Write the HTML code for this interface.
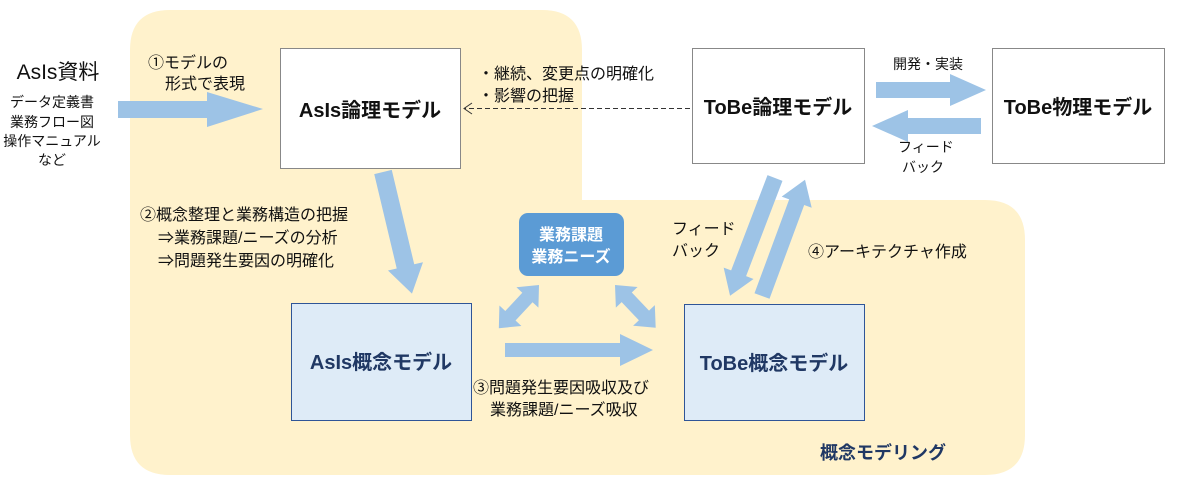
<!DOCTYPE html>
<html><head><meta charset="utf-8"><style>
html,body{margin:0;padding:0;background:#fff;}
svg{display:block;}
text{font-family:"Liberation Sans","Noto Sans CJK JP",sans-serif;}
</style></head><body>
<svg width="1178" height="485" viewBox="0 0 1178 485" xmlns="http://www.w3.org/2000/svg">
<defs>
<polygon id="ar" points="0,-9 97,-9 97,-18 125,0 97,18 97,9 0,9"/>
</defs>
<path d="M170,10 H542 Q582,10 582,50 V200 H985 Q1025,200 1025,240 V435 Q1025,475 985,475 H170 Q130,475 130,435 V50 Q130,10 170,10 Z" fill="#FFF2CC"/>

<text x="58" y="79" font-size="21" text-anchor="middle" fill="#111">AsIs資料</text>
<g font-size="14" text-anchor="middle" fill="#111">
<text x="52" y="107">データ定義書</text>
<text x="52" y="127">業務フロー図</text>
<text x="52" y="146">操作マニュアル</text>
<text x="52" y="165">など</text>
</g>
<polygon points="118,101 207,101 207,92 263,109 207,127 207,118 118,118" fill="#9DC3E6"/>
<text x="148" y="68" font-size="16" fill="#111">①モデルの</text>
<text x="165" y="89" font-size="16" fill="#111">形式で表現</text>

<rect x="280.5" y="48.5" width="180" height="120" fill="#fff" stroke="#888"/>
<text x="370" y="117" font-size="20" font-weight="bold" text-anchor="middle" fill="#111">AsIs論理モデル</text>

<line x1="690" y1="108.5" x2="464" y2="108.5" stroke="#333" stroke-dasharray="5,3"/>
<polyline points="472,103 464,108.5 472,114" fill="none" stroke="#333"/>
<text x="478" y="79" font-size="16" fill="#111">・継続、変更点の明確化</text>
<text x="478" y="101" font-size="16" fill="#111">・影響の把握</text>

<rect x="692.5" y="48.5" width="172" height="115" fill="#fff" stroke="#888"/>
<text x="778" y="114" font-size="20" font-weight="bold" text-anchor="middle" fill="#111">ToBe論理モデル</text>
<rect x="992.5" y="48.5" width="172" height="115" fill="#fff" stroke="#888"/>
<text x="1078" y="114" font-size="20" font-weight="bold" text-anchor="middle" fill="#111">ToBe物理モデル</text>
<polygon points="876,82 950,82 950,74 986,90 950,106 950,98 876,98" fill="#9DC3E6"/>
<polygon points="981,118 908,118 908,110 872,126 908,142 908,134 981,134" fill="#9DC3E6"/>
<text x="893" y="69" font-size="14" fill="#111">開発・実装</text>
<text x="898" y="152" font-size="14" fill="#111">フィード</text>
<text x="902" y="172" font-size="14" fill="#111">バック</text>

<use href="#ar" transform="translate(383,172) rotate(76.6)" fill="#9DC3E6"/>
<text x="140" y="220" font-size="16" fill="#111">②概念整理と業務構造の把握</text>
<text x="158" y="243" font-size="16" fill="#111">⇒業務課題/ニーズの分析</text>
<text x="158" y="266" font-size="16" fill="#111">⇒問題発生要因の明確化</text>

<polygon points="0,-8 102,-8 102,-16 126,0 102,16 102,8 0,8" transform="translate(775,178) rotate(110.9)" fill="#9DC3E6"/>
<polygon points="0,-8 100,-8 100,-16 124,0 100,16 100,8 0,8" transform="translate(762,296) rotate(-69.7)" fill="#9DC3E6"/>
<text x="672" y="234" font-size="16" fill="#111">フィード</text>
<text x="672" y="256" font-size="16" fill="#111">バック</text>
<text x="808" y="257" font-size="16" fill="#111">④アーキテクチャ作成</text>

<rect x="519" y="213" width="105" height="63" rx="9" fill="#5B9BD5"/>
<text x="571" y="240" font-size="16" font-weight="bold" text-anchor="middle" fill="#fff">業務課題</text>
<text x="571" y="262" font-size="16" font-weight="bold" text-anchor="middle" fill="#fff">業務ニーズ</text>
<polygon points="0,0 17,-15 17,-7 42,-7 42,-15 59,0 42,15 42,7 17,7 17,15" transform="translate(539,285) rotate(132.9)" fill="#9DC3E6"/>
<polygon points="0,0 17,-15 17,-7 42,-7 42,-15 59,0 42,15 42,7 17,7 17,15" transform="translate(615,285) rotate(46.4)" fill="#9DC3E6"/>

<rect x="291.5" y="303.5" width="180" height="117" fill="#DEEBF7" stroke="#2F5597"/>
<text x="381" y="369" font-size="20" font-weight="bold" text-anchor="middle" fill="#203864">AsIs概念モデル</text>
<rect x="684.5" y="304.5" width="180" height="116" fill="#DEEBF7" stroke="#2F5597"/>
<text x="774" y="370" font-size="20" font-weight="bold" text-anchor="middle" fill="#203864">ToBe概念モデル</text>
<polygon points="505,343 620,343 620,334 653,350 620,366 620,357 505,357" fill="#9DC3E6"/>
<text x="473" y="393" font-size="16" fill="#111">③問題発生要因吸収及び</text>
<text x="490" y="415" font-size="16" fill="#111">業務課題/ニーズ吸収</text>

<text x="820" y="459" font-size="18" font-weight="bold" fill="#203864">概念モデリング</text>
</svg>
</body></html>
